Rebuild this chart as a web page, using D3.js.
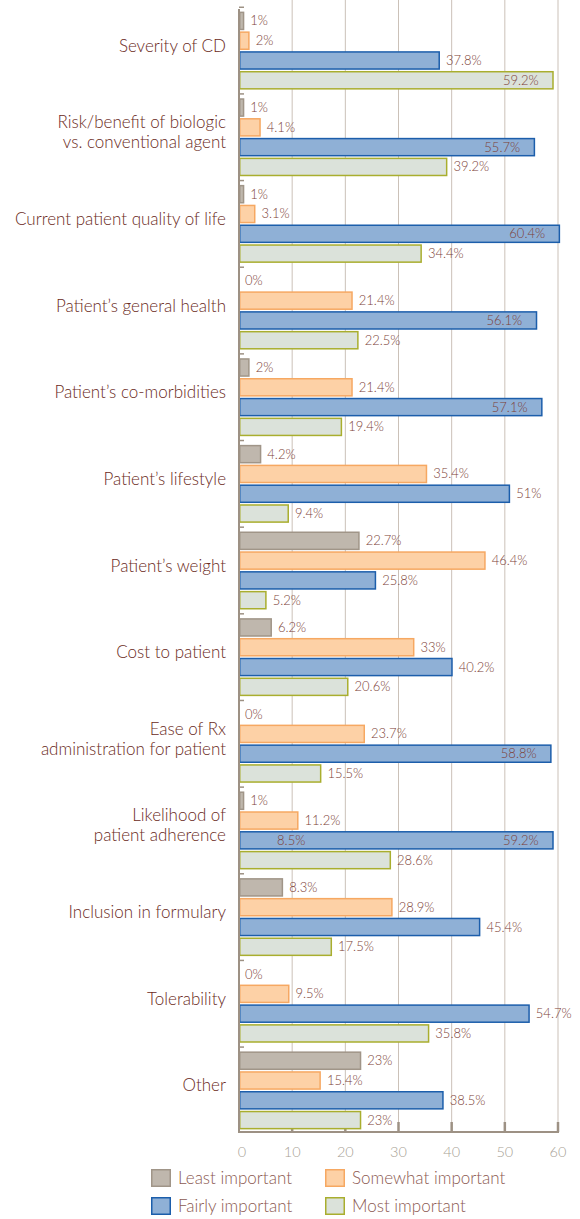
<!DOCTYPE html>
<html><head><meta charset="utf-8">
<script src="https://cdn.jsdelivr.net/npm/d3@7"></script>
<style>
html,body{margin:0;padding:0;background:#fff;}
svg{display:block;font-family:Lato,"Open Sans",sans-serif;font-weight:300;}
</style></head>
<body><svg id="c" width="580" height="1219"></svg>
<script>
const categories = [
  ["Severity of CD"],
  ["Risk/benefit of biologic","vs. conventional agent"],
  ["Current patient quality of life"],
  ["Patient’s general health"],
  ["Patient’s co-morbidities"],
  ["Patient’s lifestyle"],
  ["Patient’s weight"],
  ["Cost to patient"],
  ["Ease of Rx","administration for patient"],
  ["Likelihood of","patient adherence"],
  ["Inclusion in formulary"],
  ["Tolerability"],
  ["Other"]
];
const seriesNames = ["Least important","Somewhat important","Fairly important","Most important"];
const leastImportant    = [1, 1, 1, 0, 2, 4.2, 22.7, 6.2, 0, 1, 8.3, 0, 23];
const somewhatImportant = [2, 4.1, 3.1, 21.4, 21.4, 35.4, 46.4, 33, 23.7, 11.2, 28.9, 9.5, 15.4];
const fairlyImportant   = [37.8, 55.7, 60.4, 56.1, 57.1, 51, 25.8, 40.2, 58.8, 59.2, 45.4, 54.7, 38.5];
const mostImportant     = [59.2, 39.2, 34.4, 22.5, 19.4, 9.4, 5.2, 20.6, 15.5, 28.6, 17.5, 35.8, 23];
const labelTexts = [
  ["1%","2%","37.8%","59.2%"],["1%","4.1%","55.7%","39.2%"],["1%","3.1%","60.4%","34.4%"],
  ["0%","21.4%","56.1%","22.5%"],["2%","21.4%","57.1%","19.4%"],["4.2%","35.4%","51%","9.4%"],
  ["22.7%","46.4%","25.8%","5.2%"],["6.2%","33%","40.2%","20.6%"],["0%","23.7%","58.8%","15.5%"],
  ["1%","11.2%","59.2%","28.6%"],["8.3%","28.9%","45.4%","17.5%"],["0%","9.5%","54.7%","35.8%"],
  ["23%","15.4%","38.5%","23%"]
];
const xTicks = [0,10,20,30,40,50,60];
const strayLabel = {category: 9, series: 2, value: 8.5, text: "8.5%"};

const seriesValues = [leastImportant, somewhatImportant, fairlyImportant, mostImportant];
const fills   = ["#bfb7ad","#fdd1a6","#8fb0d6","#dbe2da"];
const strokes = ["#a09588","#f6a862","#1c5eab","#a9ae2e"];

const svg = d3.select("#c");
const x = d3.scaleLinear().domain([0,60]).range([239,558]);
const yCat = d3.scaleBand().domain(d3.range(categories.length)).range([9,1132]).paddingInner(0.1).paddingOuter(0.03);
const ySer = d3.scaleBand().domain(d3.range(4)).range([0,yCat.bandwidth()]).paddingInner(0.06);

// gridlines
svg.append("g").selectAll("line").data(xTicks.filter(d=>d>0)).join("line")
  .attr("x1",d=>x(d)).attr("x2",d=>x(d)).attr("y1",0).attr("y2",1132)
  .attr("stroke","#cbc1b8").attr("stroke-width",1);

// bottom axis ticks (upward)
svg.append("g").selectAll("line").data(xTicks.filter(d=>d>0)).join("line")
  .attr("x1",d=>x(d)).attr("x2",d=>x(d)).attr("y1",1122).attr("y2",1132)
  .attr("stroke","#9d9184").attr("stroke-width",2.5);

// left axis ticks at group boundaries
svg.append("g").selectAll("line").data(d3.range(categories.length+1)).join("line")
  .attr("x1",239).attr("x2",244)
  .attr("y1",d=> d<categories.length ? yCat(d)-yCat.step()*yCat.paddingInner()/2 : 1132)
  .attr("y2",d=> d<categories.length ? yCat(d)-yCat.step()*yCat.paddingInner()/2 : 1132)
  .attr("stroke","#9d9184").attr("stroke-width",1.5);

// bars
const rows = [];
categories.forEach((c,i)=>{ seriesValues.forEach((s,j)=>{ rows.push({i,j,v:s[i],t:labelTexts[i][j]}); }); });
const g = svg.append("g");
g.selectAll("rect").data(rows.filter(r=>r.v>0)).join("rect")
  .attr("x",x(0)+0.75)
  .attr("y",r=>yCat(r.i)+ySer(r.j)+0.75)
  .attr("width",r=>Math.max(0,x(r.v)-x(0)-1.5))
  .attr("height",ySer.bandwidth()-1.5)
  .attr("fill",r=>fills[r.j]).attr("stroke",r=>strokes[r.j]).attr("stroke-width",1.5);

// axes lines
svg.append("line").attr("x1",239).attr("x2",239).attr("y1",9).attr("y2",1133)
  .attr("stroke","#9d9184").attr("stroke-width",2);
svg.append("line").attr("x1",238).attr("x2",559).attr("y1",1132).attr("y2",1132)
  .attr("stroke","#9d9184").attr("stroke-width",2);

// value labels
const labColor = "#7d3f37";
g.selectAll("text.v").data(rows).join("text").attr("class","v")
  .attr("x",r=> r.v>55 ? x(r.v)-15 : x(r.v)+6)
  .attr("y",r=>yCat(r.i)+ySer(r.j)+ySer.bandwidth()/2+4.5)
  .attr("text-anchor",r=> r.v>55 ? "end":"start")
  .attr("font-size",13).attr("fill",labColor).text(r=>r.t);
svg.append("text")
  .attr("x",x(strayLabel.value)+7)
  .attr("y",yCat(strayLabel.category)+ySer(strayLabel.series)+ySer.bandwidth()/2+4.5)
  .attr("text-anchor","middle").attr("font-size",13).attr("fill",labColor).text(strayLabel.text);

// category labels
const cg = svg.append("g");
categories.forEach((lines,i)=>{
  const cy = yCat(i)+yCat.bandwidth()/2 - 5;
  const lh = 20;
  lines.forEach((ln,k)=>{
    cg.append("text").attr("x",226)
      .attr("y",cy + (k-(lines.length-1)/2)*lh + 6)
      .attr("text-anchor","end").attr("font-size",17).attr("fill","#6a2a22").text(ln);
  });
});

// tick labels
svg.append("g").selectAll("text").data(xTicks).join("text")
  .attr("x",d=>x(d)+ (d===0?3:0)).attr("y",1157).attr("text-anchor","middle")
  .attr("font-size",14.5).attr("fill","#a89f95").text(d=>d);

// legend
const legX = [151,325], legY = [1169,1197];
const lg = svg.append("g");
seriesNames.forEach((n,j)=>{
  const lx = legX[j%2], ly = legY[Math.floor(j/2)];
  lg.append("rect").attr("x",lx+0.75).attr("y",ly+0.75).attr("width",18.5).attr("height",16.5)
    .attr("fill",fills[j]).attr("stroke",strokes[j]).attr("stroke-width",1.5);
  lg.append("text").attr("x",lx+27).attr("y",ly+14.5).attr("font-size",17).attr("fill","#8c5a52").text(n);
});
</script></body></html>
